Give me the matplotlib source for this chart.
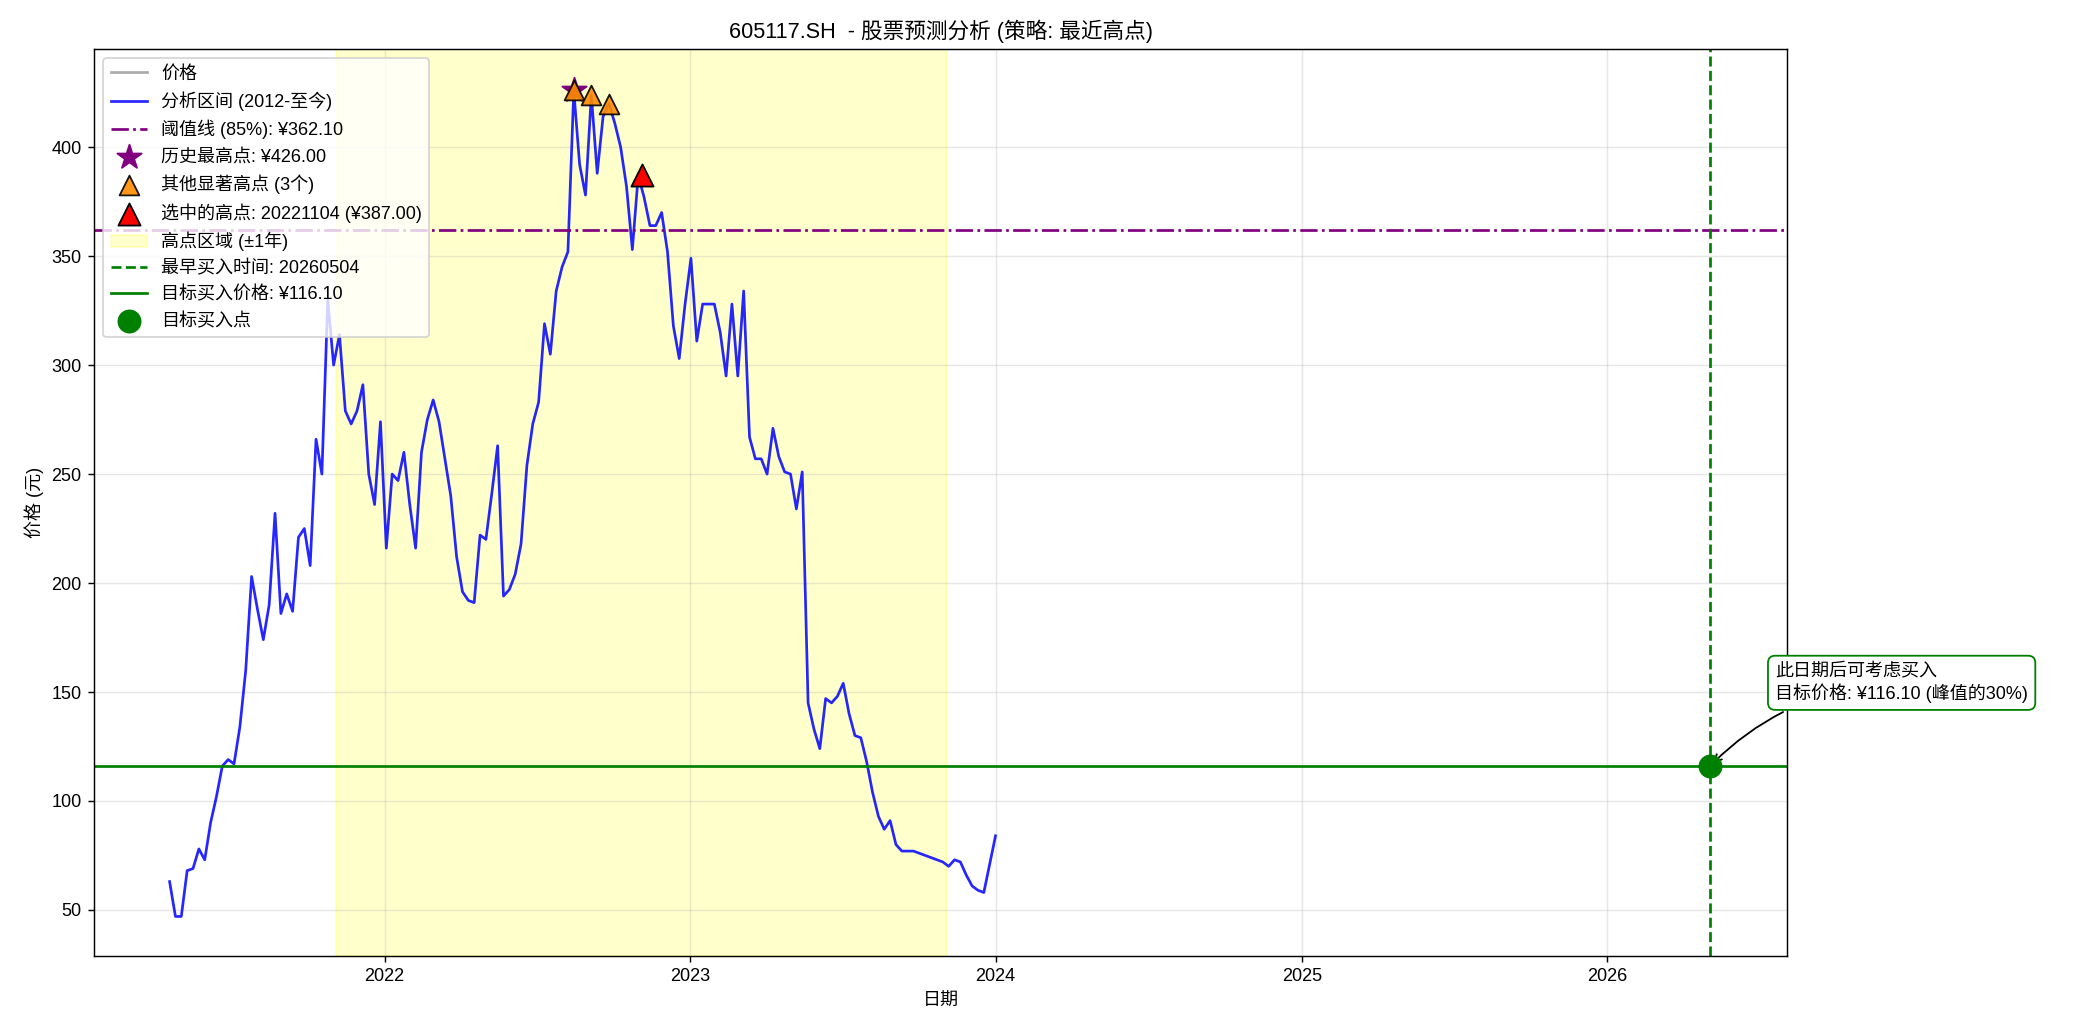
import pandas as pd
import numpy as np
import matplotlib.pyplot as plt

plt.rcParams['font.family'] = ['Liberation Sans', 'Noto Sans CJK SC', 'DejaVu Sans']
plt.rcParams['axes.unicode_minus'] = False

# 周线收盘价
prices = [63, 47, 47, 68, 69, 78, 73, 90, 102, 116, 119, 117, 134, 160, 203, 188, 174, 190, 232, 186,
          195, 187, 221, 225, 208, 266, 250, 330, 300, 314, 279, 273, 279, 291, 250, 236, 274, 216, 250, 247,
          260, 236, 216, 260, 275, 284, 274, 257, 240, 212, 196, 192, 191, 222, 220, 241, 263, 194, 197, 204,
          218, 254, 273, 283, 319, 305, 334, 345, 352, 426, 392, 378, 424, 388, 414, 420, 411, 400, 382, 353,
          387, 377, 364, 364, 370, 352, 318, 303, 328, 349, 311, 328, 328, 328, 315, 295, 328, 295, 334, 267,
          257, 257, 250, 271, 258, 251, 250, 234, 251, 145, 133, 124, 147, 145, 148, 154, 140, 130, 129, 118,
          104, 93, 87, 91, 80, 77, 77, 77, 76, 75, 74, 73, 72, 70, 73, 72, 66, 61, 59, 58, 71, 84]
start_date = '2021-04-19'
peak_price = 426.00
threshold = 362.10
target_price = 116.10
selected_date = '2022-11-04'
selected_price = 387.00
zone_start, zone_end = '2021-11-04', '2023-11-04'
buy_date = '2026-05-04'
other_peaks = [426, 424, 420]

dates = pd.date_range(start_date, periods=len(prices), freq='7D')
s = pd.Series(prices, index=dates)

fig, ax = plt.subplots(figsize=(16.015, 7.954), dpi=130)
ax.plot([], [], color='#aaaaaa', label='价格')
ax.plot(s.index, s.values, color='blue', alpha=0.85, lw=1.5, label='分析区间 (2012-至今)')
ax.axhline(threshold, color='purple', ls='-.', lw=1.5, label=f'阈值线 (85%): ¥{threshold:.2f}')

peak_idx = s.idxmax()
ax.scatter([peak_idx], [peak_price], marker='*', s=200, color='purple', zorder=5,
           label=f'历史最高点: ¥{peak_price:.2f}')
op_dates = [s[s == v].index[0] for v in other_peaks]
ax.scatter(op_dates, other_peaks, marker='^', s=120, color='darkorange', edgecolor='black',
           alpha=0.9, zorder=6, label=f'其他显著高点 ({len(other_peaks)}个)')
ax.scatter([pd.Timestamp(selected_date)], [selected_price], marker='^', s=150, color='red',
           edgecolor='black', zorder=7, label=f'选中的高点: 20221104 (¥{selected_price:.2f})')
ax.axvspan(pd.Timestamp(zone_start), pd.Timestamp(zone_end), color='yellow', alpha=0.2,
           label='高点区域 (±1年)')
ax.axvline(pd.Timestamp(buy_date), color='green', ls='--', lw=1.5, label='最早买入时间: 20260504')
ax.axhline(target_price, color='green', ls='-', lw=1.5, label=f'目标买入价格: ¥{target_price:.2f}')
ax.scatter([pd.Timestamp(buy_date)], [target_price], s=150, color='green', zorder=8, label='目标买入点')

ax.annotate(f'此日期后可考虑买入\n目标价格: ¥{target_price:.2f} (峰值的30%)',
            xy=(pd.Timestamp(buy_date), target_price), xytext=(36, 46), textcoords='offset points',
            va='center', fontsize=10, annotation_clip=False,
            bbox=dict(boxstyle='round,pad=0.4', fc='white', ec='green'),
            arrowprops=dict(arrowstyle='->', color='black', connectionstyle='arc3,rad=0.2'))

ax.set_xlim(pd.Timestamp('2021-01-19'), pd.Timestamp('2026-08-04'))
ax.set_ylim(29, 445)
ax.set_title('605117.SH  - 股票预测分析 (策略: 最近高点)', fontsize=12)
ax.set_xlabel('日期')
ax.set_ylabel('价格 (元)')
ax.grid(True, alpha=0.3)
ax.legend(loc='upper left')
fig.subplots_adjust(left=71/1568, right=1346/1568, top=1-37/779, bottom=1-720/779)
plt.savefig('out.png')
